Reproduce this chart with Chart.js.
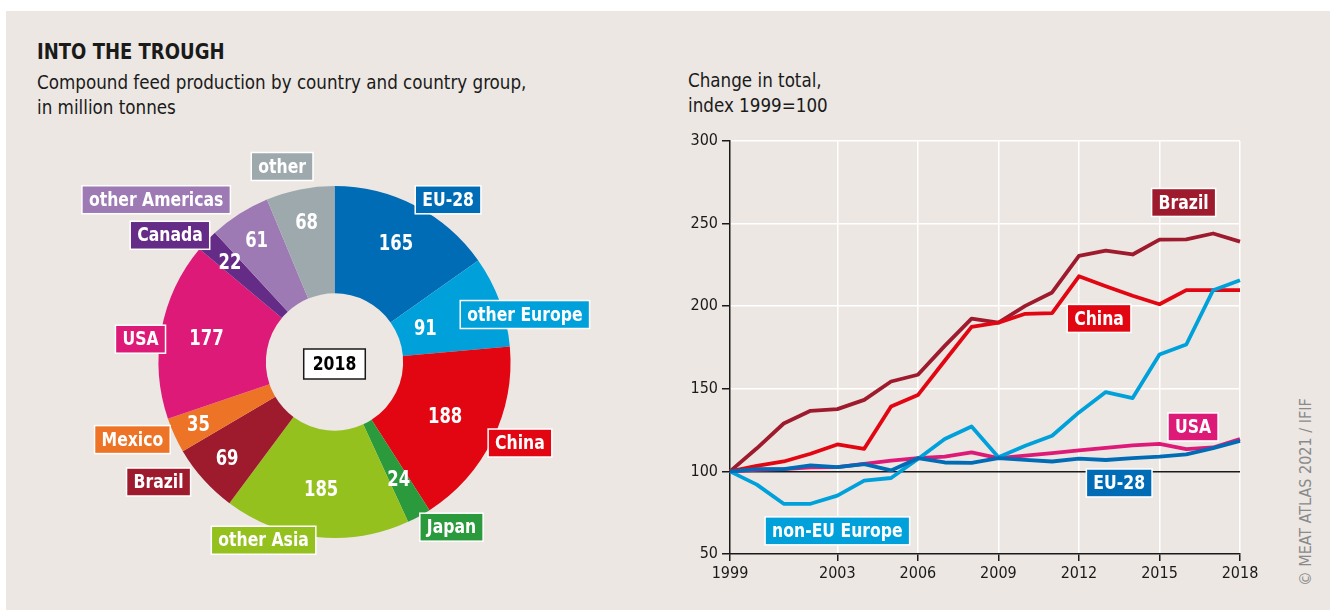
<!DOCTYPE html>
<html>
<head>
<meta charset="utf-8">
<script src="https://cdn.jsdelivr.net/npm/chart.js@4/dist/chart.umd.min.js"></script>
<style>
  html, body { margin: 0; padding: 0; background: #fff; width: 1330px; height: 610px; overflow: hidden; }
  body { font-family: "Liberation Sans Narrow", "DejaVu Sans Condensed", "Roboto", sans-serif; color: #1a1a1a; }
  #panel { position: absolute; left: 6px; top: 11px; width: 1324px; height: 599px; background: #ece7e3; }
  .txt { position: absolute; white-space: nowrap; transform-origin: 0 0; }
  #title { left: 37px; top: 39px; font-size: 22px; font-weight: bold; transform: scaleX(0.91); }
  #sub { left: 37px; top: 70px; font-size: 19px; line-height: 25px; transform: scaleX(0.98); }
  #sub2 { left: 688px; top: 68px; font-size: 19px; line-height: 25px; transform: scaleX(0.98); }
  #credit { left: 1305px; top: 492px; font-size: 16px; color: #8a8a8a; transform-origin: 50% 50%; transform: translate(-50%, -50%) rotate(-90deg); }
  canvas { position: absolute; }
  #pie { left: 0; top: 120px; }
  #trend { left: 680px; top: 120px; }
</style>
</head>
<body>
<div id="panel"></div>
<div class="txt" id="title">INTO THE TROUGH</div>
<div class="txt" id="sub">Compound feed production by country and country group,<br>in million tonnes</div>
<div class="txt" id="sub2">Change in total,<br>index 1999=100</div>
<div class="txt" id="credit">© MEAT ATLAS 2021 / IFIF</div>
<canvas id="pie" width="669" height="484"></canvas>
<canvas id="trend" width="600" height="480"></canvas>
<script>
// Doughnut data, 2018, million tonnes
const regions = ['EU-28', 'other Europe', 'China', 'Japan', 'other Asia', 'Brazil', 'Mexico', 'USA', 'Canada', 'other Americas', 'other'];
const production = [165, 91, 188, 24, 185, 69, 35, 177, 22, 61, 68];
const centerLabel = '2018';

// Line data, index 1999=100
const years = ['1999', '2000', '2001', '2002', '2003', '2004', '2005', '2006', '2007', '2008',
  '2009', '2010', '2011', '2012', '2013', '2014', '2015', '2016', '2017', '2018'];
const brazil = [100, 114, 129, 136.7, 137.7, 143.3, 154.4, 158.5, 176, 192.5, 190, 200.2, 208.3, 230.4, 233.7, 231.3, 240.3, 240.5, 244, 239.1];
const china = [100, 103.4, 106, 110.7, 116.3, 113.7, 139.3, 146.2, 167, 187.5, 190, 195.4, 195.8, 218.1, 212.1, 206.3, 201.2, 209.7, 209.7, 209.7];
const nonEU = [100, 92, 80.4, 80.4, 85.3, 94.4, 96, 107.5, 119.6, 127.2, 108.5, 115.5, 121.6, 135.7, 148, 144.4, 170.8, 176.8, 209.7, 215.7];
const eu28 = [100, 101.4, 101.4, 103.6, 102.6, 104.4, 100.6, 108, 105.4, 105.2, 108, 107, 106, 107.7, 106.9, 108, 108.9, 110.3, 114.1, 118.5];
const usa = [100, 101, 101.4, 102.4, 102.6, 104.6, 106.5, 108, 109, 111.5, 108, 109.5, 111, 112.7, 114.3, 115.7, 116.7, 113.5, 114.5, 119.6];
const xTickYears = ['1999', '2003', '2006', '2009', '2012', '2015', '2018'];
const yMin = 50, yMax = 300, yStep = 50;

const FONT = '"Liberation Sans Narrow", "DejaVu Sans Condensed", "Roboto", sans-serif';
const SQUEEZE = 0.87; // narrows the label text a little

// Colours
const pieColors = ['#006cb5', '#00a1db', '#e20613', '#2b9a3c', '#95c11f', '#9e1b2e', '#ed7326', '#de1a78', '#652c87', '#9d7ab4', '#9ea9ae'];
const C = { brazil: '#9e1b2e', china: '#e20613', nonEU: '#00a1db', eu28: '#006cb5', usa: '#de1a78' };

// Where the outside boxes sit: angle (deg, clockwise from top) and distance in outer radii
const boxAngle = [35, 76, 113.6, 144.7, 201.7, 235.7, 249, 276.7, 307.6, 312.3, 345];
const boxDist = [1.125, 1.115, 1.15, 1.15, 1.09, 1.21, 1.23, 1.11, 1.18, 1.37, 1.15];
const numDist = [0.76, 0.55, 0.7, 0.76, 0.73, 0.82, 0.85, 0.74, 0.82, 0.82, 0.81];

function squeezedText(ctx, text, x, y) {
  ctx.save();
  ctx.translate(x, y);
  ctx.scale(SQUEEZE, 1);
  ctx.textAlign = 'center';
  ctx.textBaseline = 'middle';
  ctx.fillText(text, 0, 0);
  ctx.restore();
}

// Draws a coloured box with a white frame and white bold text
function drawTag(ctx, text, cx, cy, fill, opts) {
  opts = opts || {};
  ctx.save();
  ctx.font = 'bold ' + (opts.size || 20) + 'px ' + FONT;
  const w = ctx.measureText(text).width * SQUEEZE + 2 * (opts.pad || 7);
  const h = opts.h || 28;
  ctx.fillStyle = fill;
  ctx.fillRect(cx - w / 2, cy - h / 2, w, h);
  ctx.lineWidth = opts.lw || 1.5;
  ctx.strokeStyle = opts.stroke || '#ffffff';
  ctx.strokeRect(cx - w / 2, cy - h / 2, w, h);
  ctx.fillStyle = opts.color || '#ffffff';
  squeezedText(ctx, text, cx, cy + 1);
  ctx.restore();
}

const pieLabels = {
  id: 'pieLabels',
  afterDatasetsDraw(chart) {
    const ctx = chart.ctx;
    const arcs = chart.getDatasetMeta(0).data;
    arcs.forEach((arc, i) => {
      const p = arc.getProps(['x', 'y', 'startAngle', 'endAngle', 'innerRadius', 'outerRadius'], true);
      const mid = (p.startAngle + p.endAngle) / 2;
      const r = p.outerRadius * numDist[i];
      ctx.save();
      ctx.font = 'bold 21px ' + FONT;
      ctx.fillStyle = '#ffffff';
      squeezedText(ctx, String(production[i]), p.x + Math.cos(mid) * r, p.y + Math.sin(mid) * r + 1);
      ctx.restore();
      const a = (boxAngle[i] - 90) * Math.PI / 180;
      const d = p.outerRadius * boxDist[i];
      drawTag(ctx, regions[i], p.x + Math.cos(a) * d, p.y + Math.sin(a) * d, pieColors[i]);
    });
    const c = arcs[0];
    drawTag(ctx, centerLabel, c.x, c.y + 2, '#ffffff', { color: '#000000', stroke: '#1a1a1a', pad: 9, h: 30 });
  }
};

new Chart(document.getElementById('pie'), {
  type: 'doughnut',
  data: {
    labels: regions,
    datasets: [{ data: production, backgroundColor: pieColors, borderWidth: 0 }]
  },
  options: {
    responsive: false,
    animation: false,
    radius: 176,
    cutout: '39%',
    layout: { padding: 0 },
    plugins: { legend: { display: false }, tooltip: { enabled: false } }
  },
  plugins: [pieLabels]
});

// Series tags anchored in data units: [year index, value]
const lineTags = [
  { text: 'Brazil', at: [16.9, 262.8], color: C.brazil },
  { text: 'China', at: [13.75, 192.6], color: C.china },
  { text: 'USA', at: [17.25, 126.9], color: C.usa },
  { text: 'EU-28', at: [14.5, 93], color: C.eu28 },
  { text: 'non-EU Europe', at: [4.0, 64], color: C.nonEU }
];

const trendLabels = {
  id: 'trendLabels',
  afterDatasetsDraw(chart) {
    const x = chart.scales.x, y = chart.scales.y;
    lineTags.forEach(t => {
      drawTag(chart.ctx, t.text, x.getPixelForValue(t.at[0]), y.getPixelForValue(t.at[1]), t.color);
    });
  }
};

const line = (data, color) => ({
  data, borderColor: color, backgroundColor: color, borderWidth: 3.8,
  pointRadius: 0, tension: 0, fill: false, borderJoinStyle: 'round'
});

new Chart(document.getElementById('trend'), {
  type: 'line',
  data: {
    labels: years,
    datasets: [
      line(eu28, C.eu28),
      line(nonEU, C.nonEU),
      line(china, C.china),
      line(brazil, C.brazil),
      line(usa, C.usa)
    ]
  },
  options: {
    responsive: false,
    animation: false,
    layout: { padding: { top: 21, right: 40, bottom: 10, left: 0 } },
    plugins: { legend: { display: false }, tooltip: { enabled: false } },
    scales: {
      x: {
        type: 'category',
        offset: false,
        afterFit(s) { s.height = 36; },
        border: { color: '#1a1a1a', width: 1.5 },
        grid: {
          color: c => (c.index > 0 && xTickYears.includes(years[c.index])) ? '#ffffff' : 'rgba(0,0,0,0)',
          tickColor: c => xTickYears.includes(years[c.index]) ? '#1a1a1a' : 'rgba(0,0,0,0)',
          lineWidth: 1.5,
          tickLength: 7
        },
        ticks: {
          autoSkip: false,
          maxRotation: 0,
          padding: 3,
          color: '#1a1a1a',
          font: { family: FONT, size: 16 },
          callback: (v, i) => xTickYears.includes(years[i]) ? years[i] : ''
        }
      },
      y: {
        min: yMin,
        max: yMax,
        afterFit(s) { s.width = 50; },
        border: { color: '#1a1a1a', width: 1.5 },
        grid: {
          color: c => c.tick.value === 100 ? '#1a1a1a' : (c.tick.value === yMin ? 'rgba(0,0,0,0)' : '#ffffff'),
          tickColor: '#1a1a1a',
          lineWidth: 1.5,
          tickLength: 8
        },
        ticks: {
          stepSize: yStep,
          padding: 4,
          color: '#1a1a1a',
          font: { family: FONT, size: 16 }
        }
      }
    }
  },
  plugins: [trendLabels]
});
</script>
</body>
</html>
